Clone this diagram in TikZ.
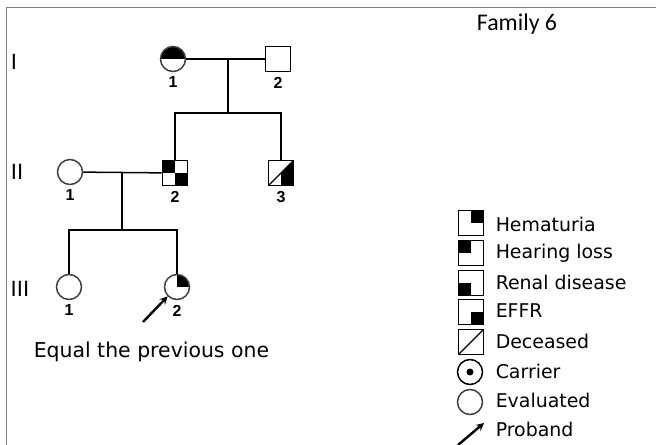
\documentclass[tikz,border=0pt]{standalone}
\usepackage{fontspec}
\setmainfont{DejaVu Sans}
\newfontfamily\famfont{Carlito}
\newfontfamily\numfont{Liberation Sans}
\usetikzlibrary{positioning, arrows}
\newcommand{\ppb}[1]{(path picture bounding box.#1)}

\begin{document}
\begin{tikzpicture}[x=1bp, y=1bp, yscale=-1, >=stealth, line width=1.5bp,
    male/.style={draw, rectangle, minimum size=25bp, inner sep=0pt, line width=1.8bp},
    female/.style={draw=black!75, circle, minimum size=25bp, inner sep=0pt, line width=1.5bp},
    topq/.style={path picture={\fill \ppb{north west} rectangle \ppb{east};}},
    hemq/.style={path picture={\fill \ppb{north east} rectangle \ppb{center};}},
    hearq/.style={path picture={\fill \ppb{north west} rectangle \ppb{center};}},
    renq/.style={path picture={\fill \ppb{south west} rectangle \ppb{center};}},
    effrq/.style={path picture={\fill \ppb{south east} rectangle \ppb{center};}},
    checkq/.style={path picture={\fill \ppb{north west} rectangle \ppb{center};
        \fill \ppb{south east} rectangle \ppb{center};}},
    deadq/.style={path picture={\draw[line width=1.4bp] \ppb{south west} -- \ppb{north east};}},
    dotq/.style={path picture={\fill \ppb{center} circle (3.5bp);}},
    num/.style={font=\numfont\bfseries\fontsize{16}{16}\selectfont, inner sep=1bp, label distance=3bp},
    gen/.style={font=\fontsize{21}{21}\selectfont},
    legtext/.style={font=\fontsize{19}{19}\selectfont, anchor=west, inner sep=0pt},
    proband/.style={->, line width=2.4bp}]
    \useasboundingbox (0,0) rectangle (656,445);
    \draw[black!50, line width=1bp] (6,445) -- (6,8) -- (656,8);

    \node[font=\famfont\fontsize{24}{24}\selectfont] (title) at (517,24) {Family 6};

    % generations
    \node[gen] (g1) at (14,62) {I};
    \node[gen] (g2) at (17,172) {II};
    \node[gen] (g3) at (20,289) {III};

    % generation I
    \node[female, topq, label={[num]below:1}] (i1) at (173,59) {};
    \node[male, label={[num]below:2}] (i2) at (278,59) {};
    \coordinate (m1) at (228,59);
    \coordinate (s1) at (228,113);
    \draw (i1) -- (i2);
    \draw (m1) -- (s1);

    % generation II
    \node[female, label={[num]below:1}] (ii1) at (70,172) {};
    \node[male, checkq, label={[num]below:2}] (ii2) at (175,173) {};
    \node[male, label={[num]below:3},
        path picture={\fill \ppb{center} -- \ppb{north east} -- \ppb{south east} -- \ppb{south} -- cycle;
            \draw[line width=1.4bp] \ppb{south west} -- \ppb{north east};}] (ii3) at (281,173) {};
    \draw (ii2) |- (s1) -| (ii3);
    \coordinate (m2) at (122,173);
    \coordinate (s2) at (122,230);
    \draw (ii1) -- (ii2);
    \draw (m2) -- (s2);

    % generation III
    \node[female, label={[num]below:1}] (iii1) at (69,287) {};
    \node[female, hemq, label={[num]below:2}] (iii2) at (177,287) {};
    \draw (iii1) |- (s2) -| (iii2);
    \coordinate (pa) at (143,322);
    \draw[proband] (pa) -- (iii2.south west);

    \node[legtext, font=\fontsize{20.5}{20.5}\selectfont] (note) at (33,352) {Equal the previous one};

    % legend
    \node[male, hemq] (lhem) at (471,223) {};
    \node[male, hearq] (lhear) at (471,253) {};
    \node[male, renq] (lren) at (471,283) {};
    \node[male, effrq] (leffr) at (471,312) {};
    \node[male, deadq] (ldead) at (471,342) {};
    \node[female, draw=black, dotq] (lcar) at (470,372) {};
    \node[female] (leval) at (470,402) {};
    \coordinate (lpa) at (458,445);
    \coordinate (lpb) at (484,423);
    \draw[proband] (lpa) -- (lpb);

    \node[legtext] at (495,224) {Hematuria};
    \node[legtext] at (495,253) {Hearing loss};
    \node[legtext] at (495,282) {Renal disease};
    \node[legtext] at (495,311) {EFFR};
    \node[legtext] at (495,341) {Deceased};
    \node[legtext] at (495,371) {Carrier};
    \node[legtext] at (495,400) {Evaluated};
    \node[legtext] at (495,429) {Proband};
\end{tikzpicture}
\end{document}
